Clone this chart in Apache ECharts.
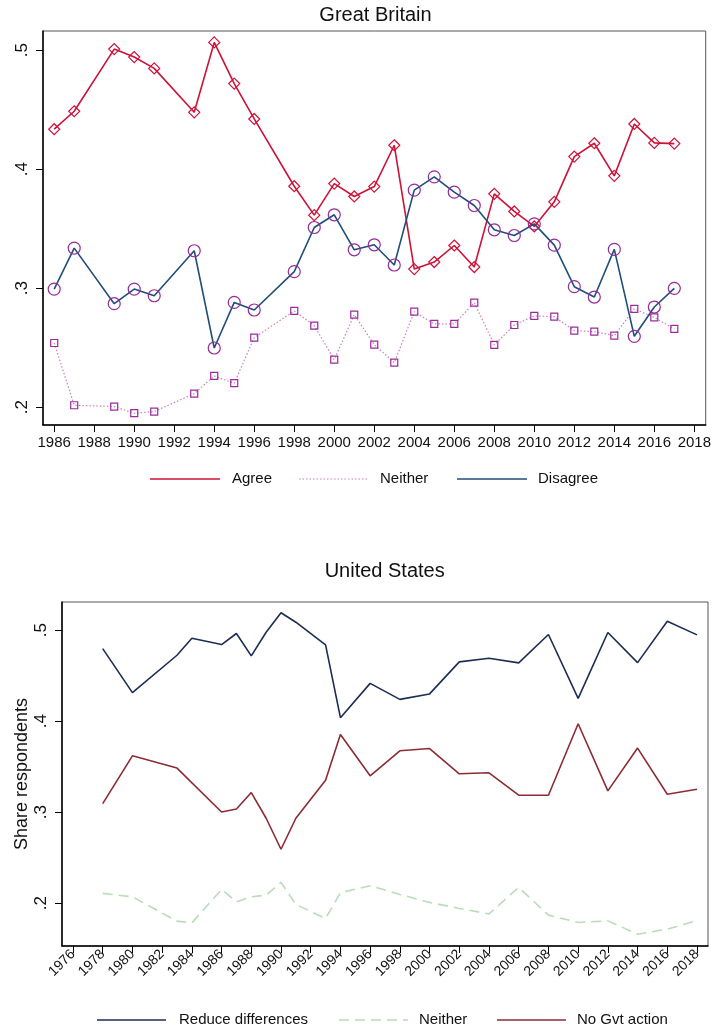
<!DOCTYPE html>
<html>
<head>
<meta charset="utf-8">
<script src="https://cdn.jsdelivr.net/npm/echarts@6/dist/echarts.min.js"></script>
<style>
html,body{margin:0;padding:0;background:#fff;}
#chart{width:714px;height:1031px;}
</style>
</head>
<body>
<div id="chart"></div>
<script>
// ---------- Great Britain ----------
const gbYears = [1986,1987,1989,1990,1991,1993,1994,1995,1996,1998,1999,2000,2001,2002,2003,2004,2005,2006,2007,2008,2009,2010,2011,2012,2013,2014,2015,2016,2017];
const gbAgree = [0.4335,0.4486,0.5008,0.4941,0.4846,0.4477,0.5064,0.4718,0.4421,0.3856,0.3613,0.3878,0.3770,0.3853,0.4200,0.3160,0.3219,0.3358,0.3177,0.3792,0.3644,0.3518,0.3725,0.4105,0.4217,0.3943,0.4379,0.4220,0.4214];
const gbNeither = [0.2539,0.2016,0.2005,0.1949,0.1963,0.2114,0.2262,0.2201,0.2584,0.2808,0.2685,0.2399,0.2777,0.2525,0.2374,0.2802,0.2699,0.2699,0.2878,0.2523,0.2690,0.2766,0.2760,0.2643,0.2634,0.2601,0.2825,0.2754,0.2657];
const gbDisagree = [0.2992,0.3336,0.2869,0.2992,0.2936,0.3314,0.2497,0.2880,0.2816,0.3138,0.3509,0.3616,0.3322,0.3364,0.3194,0.3823,0.3935,0.3806,0.3694,0.3490,0.3442,0.3540,0.3361,0.3012,0.2925,0.3325,0.2595,0.2841,0.2998];
const gbXTicks = [1986,1988,1990,1992,1994,1996,1998,2000,2002,2004,2006,2008,2010,2012,2014,2016,2018];
const gbYTicks = [0.2,0.3,0.4,0.5];

// ---------- United States ----------
const usYears = [1978,1980,1983,1984,1986,1987,1988,1989,1990,1991,1993,1994,1996,1998,2000,2002,2004,2006,2008,2010,2012,2014,2016,2018];
const usReduce = [0.4798,0.4314,0.4725,0.4912,0.4842,0.4964,0.4718,0.4978,0.5192,0.5088,0.4839,0.4039,0.4416,0.4240,0.4300,0.4652,0.4692,0.4641,0.4953,0.4251,0.4975,0.4644,0.5099,0.4949];
const usNeither = [0.2108,0.2070,0.1803,0.1784,0.2152,0.2015,0.2070,0.2089,0.2229,0.1987,0.1833,0.2115,0.2192,0.2097,0.2009,0.1943,0.1883,0.2174,0.1869,0.1789,0.1806,0.1660,0.1715,0.1811];
const usNoGvt = [0.3095,0.3620,0.3485,null,0.3003,0.3036,0.3216,0.2934,0.2593,0.2934,0.3352,0.3855,0.3400,0.3675,0.3700,0.3422,0.3433,0.3187,0.3187,0.3972,0.3235,0.3705,0.3198,0.3253];
const usXTicks = [1976,1978,1980,1982,1984,1986,1988,1990,1992,1994,1996,1998,2000,2002,2004,2006,2008,2010,2012,2014,2016,2018];
const usYTicks = [0.2,0.3,0.4,0.5];

const FONT = '"Liberation Sans", Arial, Helvetica, sans-serif';
const NARROW = '"Liberation Sans Narrow", "Liberation Sans", Arial, sans-serif';
const pair = (xs, ys) => xs.map((x, i) => [x, ys[i]]);
const fmtY = v => String(v).replace(/^0\./, '.');

function xAxisOpt(gridIndex, min, max, ticks, rotate) {
  return {
    type: 'value', gridIndex, min, max,
    axisLine: {show: true, onZero: false, lineStyle: {color: '#000', width: 1.5}},
    axisTick: {show: true, length: 7, inside: false, customValues: ticks, lineStyle: {color: '#000', width: 1}},
    axisLabel: {
      customValues: ticks, color: '#111', fontFamily: rotate ? FONT : NARROW,
      fontSize: rotate ? 14 : 15, margin: rotate ? 6 : 10, rotate: rotate || 0,
      formatter: v => String(v)
    },
    splitLine: {show: false}
  };
}
function yAxisOpt(gridIndex, min, max, ticks, name) {
  const o = {
    type: 'value', gridIndex, min, max,
    axisLine: {show: true, onZero: false, lineStyle: {color: '#000', width: 1.5}},
    axisTick: {show: true, length: 7, customValues: ticks, lineStyle: {color: '#000', width: 1}},
    axisLabel: {customValues: ticks, color: '#111', fontFamily: FONT, fontSize: 17, rotate: 90, margin: 12, formatter: fmtY},
    splitLine: {show: false}
  };
  if (name) {
    o.name = name; o.nameLocation = 'middle'; o.nameRotate = 90; o.nameGap = 31;
    o.nameMoveOverlap = false;
    o.nameTextStyle = {fontFamily: FONT, fontSize: 18, color: '#111'};
  }
  return o;
}

const chart = echarts.init(document.getElementById('chart'), null, {renderer: 'canvas'});

const gfx = [];
function txt(x, y, s, size, align) {
  gfx.push({type: 'text', x, y, style: {text: s, font: size + 'px ' + FONT, fill: '#111', textAlign: align || 'left', textVerticalAlign: 'middle'}});
}
function seg(x1, x2, y, color, dash, w) {
  gfx.push({type: 'line', shape: {x1, y1: y, x2, y2: y}, style: {stroke: color, lineWidth: w || 1.5, lineDash: dash || null}});
}
// titles
txt(375.5, 15, 'Great Britain', 20, 'center');
txt(384.7, 571, 'United States', 20, 'center');
// GB legend
seg(150, 220, 479, '#cc1236');
txt(232, 479, 'Agree', 15);
seg(299, 368, 479, '#c77fc7', [1.5, 2], 1.2);
txt(380, 479, 'Neither', 15);
seg(457, 527, 479, '#1f4e79');
txt(538, 479, 'Disagree', 15);
// US legend
seg(97, 166, 1020, '#1c2d55');
txt(179, 1020, 'Reduce differences', 15);
seg(339, 408, 1020, '#b9dcb9', [10, 6]);
txt(419, 1020, 'Neither', 15);
seg(497, 566, 1020, '#8d2b34');
txt(577, 1020, 'No Gvt action', 15);

const option = {
  backgroundColor: '#fff',
  animation: false,
  grid: [
    {left: 43, top: 31, width: 665, height: 394, show: true, borderColor: '#555', borderWidth: 1, backgroundColor: 'transparent'},
    {left: 62, top: 602, width: 646, height: 344, show: true, borderColor: '#555', borderWidth: 1, backgroundColor: 'transparent'}
  ],
  xAxis: [
    xAxisOpt(0, 1985.44, 2018.57, gbXTicks, 0),
    xAxisOpt(1, 1975.26, 2018.74, usXTicks, 45)
  ],
  yAxis: [
    yAxisOpt(0, 0.185, 0.516, gbYTicks),
    yAxisOpt(1, 0.153, 0.531, usYTicks, 'Share respondents')
  ],
  series: [
    {name: 'Agree', type: 'line', xAxisIndex: 0, yAxisIndex: 0, data: pair(gbYears, gbAgree),
     symbol: 'diamond', symbolSize: [11, 11],
     itemStyle: {color: 'rgba(0,0,0,0)', borderColor: '#d0103a', borderWidth: 1.2},
     lineStyle: {color: '#cc1236', width: 1.6}},
    {name: 'Neither', type: 'line', xAxisIndex: 0, yAxisIndex: 0, data: pair(gbYears, gbNeither),
     symbol: 'rect', symbolSize: 7,
     itemStyle: {color: 'rgba(0,0,0,0)', borderColor: '#9c2a9c', borderWidth: 1.2},
     lineStyle: {color: '#c77fc7', width: 1.2, type: [1.5, 2]}},
    {name: 'Disagree', type: 'line', xAxisIndex: 0, yAxisIndex: 0, data: pair(gbYears, gbDisagree),
     symbol: 'circle', symbolSize: 12,
     itemStyle: {color: 'rgba(0,0,0,0)', borderColor: '#962a9e', borderWidth: 1.2},
     lineStyle: {color: '#1f4e79', width: 1.6}},
    {name: 'Reduce differences', type: 'line', xAxisIndex: 1, yAxisIndex: 1, data: pair(usYears, usReduce),
     symbol: 'none', lineStyle: {color: '#1c2d55', width: 1.6}},
    {name: 'Neither ', type: 'line', xAxisIndex: 1, yAxisIndex: 1, data: pair(usYears, usNeither),
     symbol: 'none', lineStyle: {color: '#b9dcb9', width: 1.6, type: [10, 6]}},
    {name: 'No Gvt action', type: 'line', xAxisIndex: 1, yAxisIndex: 1, data: pair(usYears, usNoGvt),
     symbol: 'none', connectNulls: true, lineStyle: {color: '#8d2b34', width: 1.6}}
  ],
  graphic: gfx
};
chart.setOption(option);
</script>
</body>
</html>
